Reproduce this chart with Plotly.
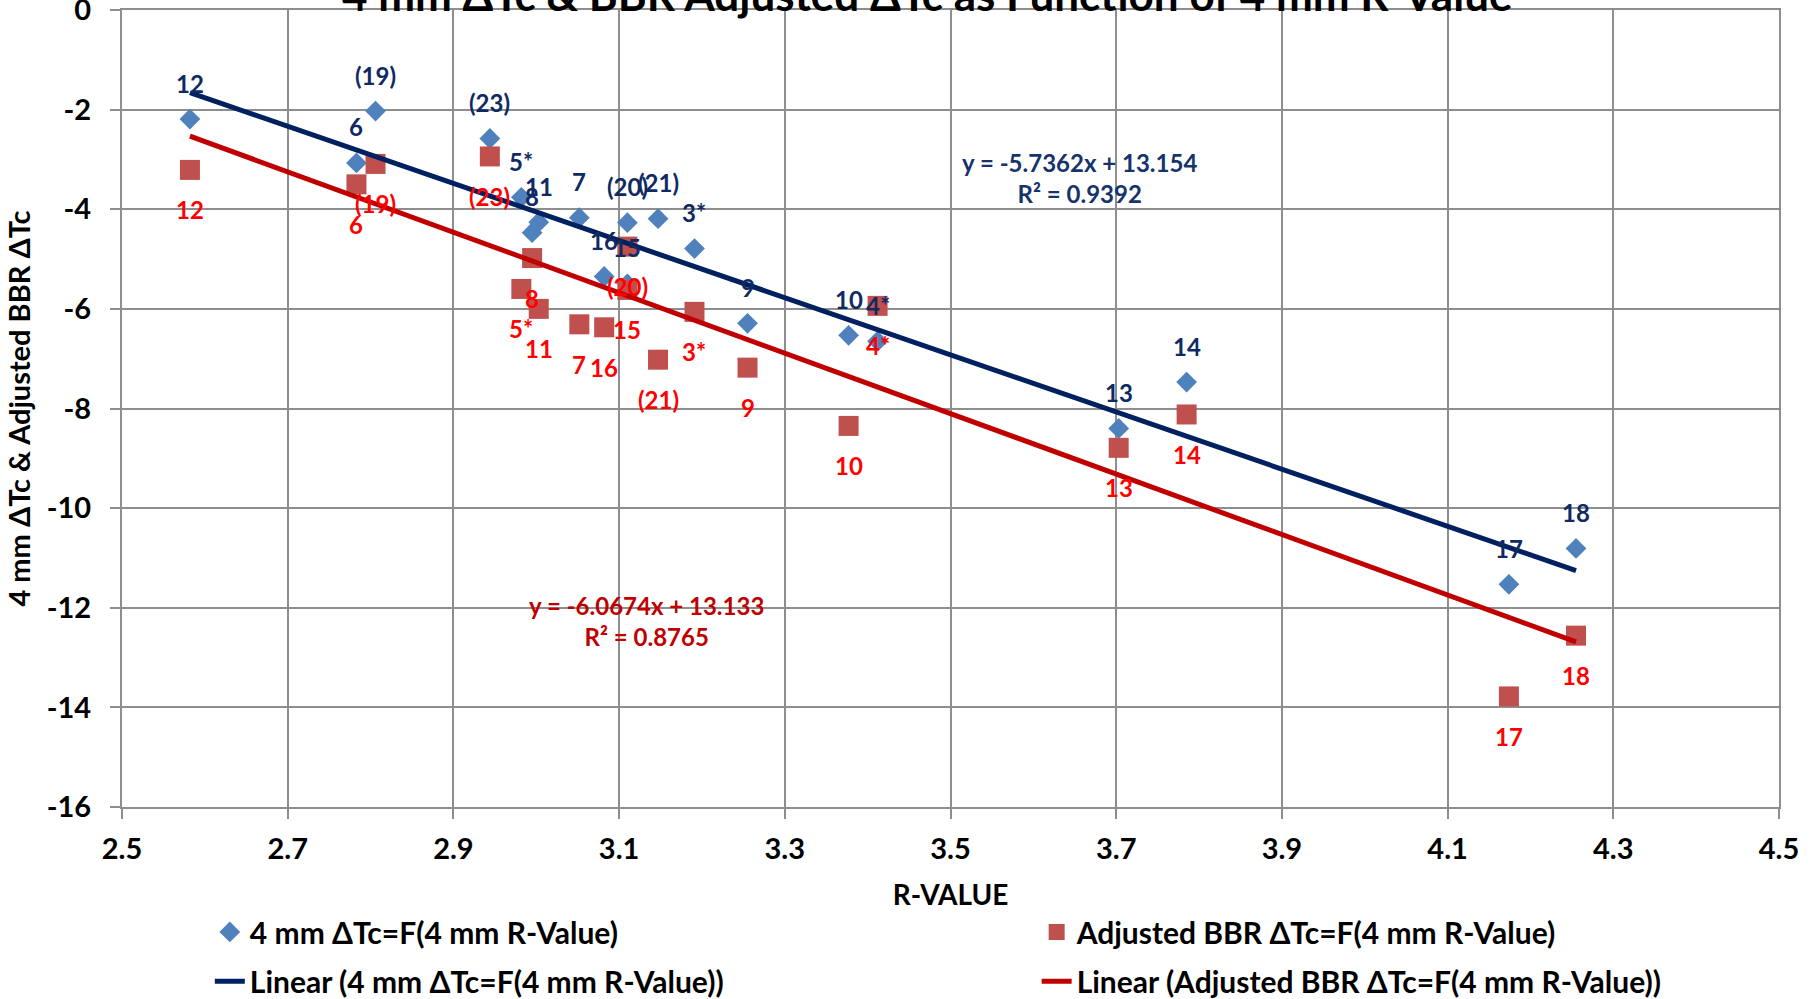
import plotly.graph_objects as go

# ---- data ----
point_labels = ['12', '6', '(19)', '(23)', '5*', '8', '11', '7', '16', '(20)', '15',
                '(21)', '3*', '9', '10', '4*', '13', '14', '17', '18']
r_value = [2.582, 2.783, 2.806, 2.944, 2.982, 2.995, 3.003, 3.052, 3.082, 3.110, 3.110,
           3.147, 3.191, 3.255, 3.377, 3.412, 3.703, 3.785, 4.174, 4.255]
dtc_4mm = [-2.19, -3.07, -2.03, -2.58, -3.76, -4.47, -4.26, -4.17, -5.35, -4.27, -5.50,
           -4.19, -4.79, -6.29, -6.53, -6.65, -8.40, -7.47, -11.53, -10.81]
dtc_bbr = [-3.21, -3.50, -3.09, -2.94, -5.60, -4.98, -6.00, -6.31, -6.37, -4.75, -5.62,
           -7.02, -6.06, -7.18, -8.35, -5.94, -8.79, -8.12, -13.78, -12.56]

fit_4mm = (-5.7362, 13.154, 0.9392)
fit_bbr = (-6.0674, 13.133, 0.8765)

x_ticks = [2.5, 2.7, 2.9, 3.1, 3.3, 3.5, 3.7, 3.9, 4.1, 4.3, 4.5]
x_tick_text = ['2.5', '2.7', '2.9', '3.1', '3.3', '3.5', '3.7', '3.9', '4.1', '4.3', '4.5']
y_ticks = [0, -2, -4, -6, -8, -10, -12, -14, -16]
y_tick_text = ['0', '-2', '-4', '-6', '-8', '-10', '-12', '-14', '-16']

name_4mm = '4 mm ΔTc=F(4 mm R-Value)'
name_bbr = 'Adjusted BBR ΔTc=F(4 mm R-Value)'

FONT = 'Lato, "Open Sans", sans-serif'
BLUE_M, RED_M = '#4F81BD', '#C0504D'
NAVY, DARKRED = '#002060', '#C00000'
NAVY_TXT, RED_TXT = '#0F2A62', '#FF0000'
GRID = '#8E8E8E'

fig = go.Figure()
fig.add_trace(go.Scatter(x=r_value, y=dtc_4mm, mode='markers', name=name_4mm,
                         marker=dict(symbol='diamond', size=16, color=BLUE_M),
                         legend='legend'))
fig.add_trace(go.Scatter(x=r_value, y=dtc_bbr, mode='markers', name=name_bbr,
                         marker=dict(symbol='square', size=20, color=RED_M),
                         legend='legend2'))

xmin, xmax = min(r_value), max(r_value)
for (m, b, r2), col, nm, lg in [(fit_4mm, NAVY, name_4mm, 'legend3'),
                                (fit_bbr, DARKRED, name_bbr, 'legend4')]:
    fig.add_trace(go.Scatter(x=[xmin, xmax], y=[m * xmin + b, m * xmax + b], mode='lines',
                             name=f'Linear ({nm})', line=dict(color=col, width=5),
                             legend=lg))

annotations = []
for x, y, t in zip(r_value, dtc_4mm, point_labels):
    annotations.append(dict(x=x, y=y, xref='x', yref='y', text=t, showarrow=False,
                            yanchor='middle', yshift=36,
                            font=dict(family=FONT, size=24, color=NAVY_TXT, weight='bold')))
for x, y, t in zip(r_value, dtc_bbr, point_labels):
    annotations.append(dict(x=x, y=y, xref='x', yref='y', text=t, showarrow=False,
                            yanchor='middle', yshift=-40,
                            font=dict(family=FONT, size=24, color=RED_TXT, weight='bold')))

def eq_text(fit):
    m, b, r2 = fit
    return f'y = {m:.4f}x + {b:.3f}<br>R² = {r2:.4f}'

annotations.append(dict(x=3.656, y=-3.37, xref='x', yref='y', text=eq_text(fit_4mm),
                        showarrow=False, align='center',
                        font=dict(family=FONT, size=24, color='#16336B', weight='bold')))
annotations.append(dict(x=3.133, y=-12.26, xref='x', yref='y', text=eq_text(fit_bbr),
                        showarrow=False, align='center',
                        font=dict(family=FONT, size=24, color=DARKRED, weight='bold')))

annotations.append(dict(x=0.486, y=1, xref='paper', yref='paper', yanchor='middle', yshift=16,
                        text='4 mm ΔTc & BBR Adjusted ΔTc as Function of 4 mm R-Value',
                        showarrow=False,
                        font=dict(family=FONT, size=44, color='black', weight='bold')))

axis_common = dict(showgrid=True, gridcolor=GRID, gridwidth=2, zeroline=False,
                   showline=True, linecolor=GRID, linewidth=2, mirror=True,
                   ticks='outside', ticklen=10, tickwidth=2, tickcolor=GRID,
                   ticklabeloverflow='allow',
                   tickfont=dict(family=FONT, size=29, color='black', weight='bold'))

legend_font = dict(family=FONT, size=30, color='black', weight='bold')
row1, row2 = -0.1568, -0.2185
col1, col2 = 0.053, 0.552

def leg(x, y):
    return dict(orientation='h', x=x, xanchor='left', y=y, yanchor='middle',
                bgcolor='rgba(0,0,0,0)', font=legend_font)

fig.update_layout(
    width=1819, height=999,
    margin=dict(l=122, r=40, t=10, b=192, autoexpand=False),
    paper_bgcolor='white', plot_bgcolor='white',
    xaxis=dict(range=[2.5, 4.5], tickvals=x_ticks, ticktext=x_tick_text,
               ticklabelstandoff=5,
               title=dict(text='R-VALUE', standoff=22,
                          font=dict(family=FONT, size=28, color='black', weight='bold')),
               **axis_common),
    yaxis=dict(range=[-16, 0], tickvals=y_ticks, ticktext=y_tick_text,
               ticklabelstandoff=13,
               title=dict(text='4 mm ΔTc & Adjusted BBR ΔTc', standoff=8,
                          font=dict(family=FONT, size=29, color='black', weight='bold')),
               **axis_common),
    legend=leg(col1, row1),
    legend2=leg(col2, row1),
    legend3=leg(col1, row2),
    legend4=leg(col2, row2),
    annotations=annotations,
    showlegend=True,
)

fig.write_html('out.html')
